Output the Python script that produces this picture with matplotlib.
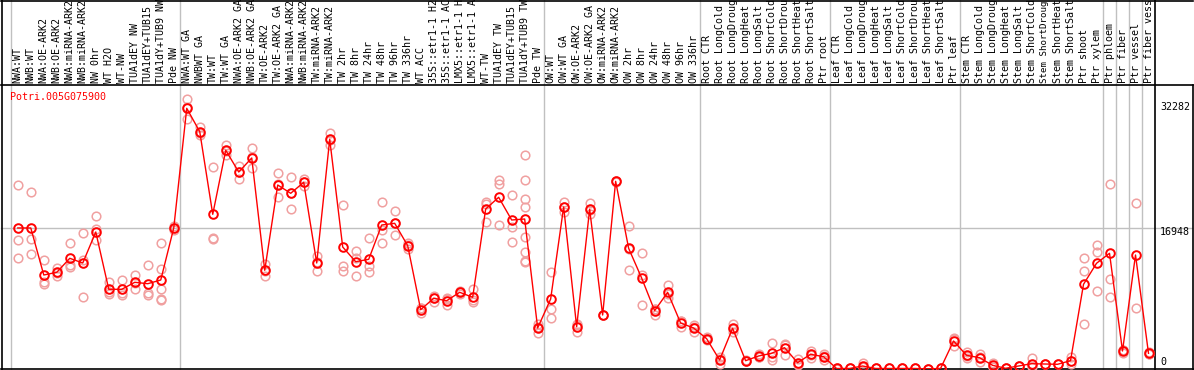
import matplotlib
matplotlib.use("Agg")
import matplotlib.pyplot as plt
from matplotlib.lines import Line2D
from matplotlib.transforms import blended_transform_factory

labels = ["NWA:WT", "NWB:WT", "NWA:OE-ARK2", "NWB:OE-ARK2", "NWA:miRNA-ARK2", "NWB:miRNA-ARK2",
          "NW 0hr", "WT H2O", "WT-NW", "TUA1dEY NW", "TUA1dEY+TUB15", "TUA1dY+TUB9 NW", "Pde NW",
          "NWA:WT GA", "NWBWT GA", "TW:WT", "TW:WT GA", "NWA:OE-ARK2 GA", "NWB:OE-ARK2 GA",
          "TW:OE-ARK2", "TW:OE-ARK2 GA", "NWA:miRNA-ARK2", "NWB:miRNA-ARK2", "TW:miRNA-ARK2",
          "TW:miRNA-ARK2", "TW 2hr", "TW 8hr", "TW 24hr", "TW 48hr", "TW 96hr", "TW 336hr",
          "WT ACC", "35S::etr1-1 H2", "35S::etr1-1 AC", "LMX5::etr1-1 H", "LMX5::etr1-1 A",
          "WT-TW", "TUA1dEY TW", "TUA1dEY+TUB15", "TUA1dY+TUB9 TW", "Pde TW",
          "OW:WT", "OW:WT GA", "OW:OE-ARK2", "OW:OE-ARK2 GA", "OW:miRNA-ARK2", "OW:miRNA-ARK2",
          "OW 2hr", "OW 8hr", "OW 24hr", "OW 48hr", "OW 96hr", "OW 336hr",
          "Root CTR", "Root LongCold", "Root LongDroug", "Root LongHeat", "Root LongSalt",
          "Root ShortCold", "Root ShortDrou", "Root ShortHeat", "Root ShortSalt", "Ptr root",
          "Leaf CTR", "Leaf LongCold", "Leaf LongDroug", "Leaf LongHeat", "Leaf LongSalt",
          "Leaf ShortCold", "Leaf ShortDrou", "Leaf ShortHeat", "Leaf ShortSalt", "Ptr leaf",
          "Stem CTR", "Stem LongCold", "Stem LongDroug", "Stem LongHeat", "Stem LongSalt",
          "Stem ShortCold", "Stem ShortDroug", "Stem ShortHeat", "Stem ShortSalt",
          "Ptr shoot", "Ptr xylem", "Ptr phloem", "Ptr fiber", "Ptr vessel", "Ptr fiber vess"]

means = [16948, 16948, 11376, 11696, 13355, 12798, 16472, 9681, 9681, 10511, 10345, 10784, 16948,
         31130, 28357, 18569, 26153, 23582, 25241, 11933, 22041, 21057, 22361, 12798, 27456, 14694,
         12952, 13236, 17301, 17502, 14848, 7264, 8615, 8331, 9326, 8733, 19197, 20583, 17894, 18012, 5096,
         8532, 19434, 5250, 19161, 6636, 22479, 14540, 11021, 7146, 9326, 5688, 5096,
         3828, 1304, 5060, 1221, 1778, 2097, 2761, 984, 1979, 1695,
         300, 300, 593, 300, 300, 300, 300, 250, 300, 3555,
         1860, 1576, 675, 320, 593, 865, 830, 794, 1221, 10274, 12763,
         13947, 2370, 13746, 2097]

replicates = [
    [22005, 15488, 13355], [21176, 15606, 13865], [13118, 10582, 10310], [12241, 11258, 11590],
    [15132, 12561, 12372], [16317, 13154, 8733], [18368, 16791, 15524], [10547, 9089, 9400],
    [10748, 9006, 9290], [11412, 9753, 10370], [12525, 9207, 9006], [15132, 12087, 9717, 8532, 8450],
    [16700, 17200, 16948],
    [32282, 29862, 31250], [28878, 27966, 28230], [24210, 15796, 15700], [26781, 25596, 26080],
    [24328, 22788, 23630], [26390, 24020, 25310], [12644, 11293, 11860], [23427, 20583, 22110],
    [22953, 19161, 21060], [21900, 22800, 22380], [13628, 11850, 12920], [28167, 26781, 27420],
    [19635, 12443, 11850], [14184, 11258, 13400], [15725, 12478, 11696], [19991, 16744, 15132],
    [18924, 16080, 17500], [15132, 14421, 14990], [6837, 7501, 7450], [8923, 8212, 8700],
    [8615, 7821, 8560], [9480, 9125, 9370], [9681, 8141, 8380], [20062, 17692, 19840],
    [22634, 22124, 17266], [20820, 17100, 15322],
    [25596, 22634, 20382, 19398, 15915, 14137, 12952, 13082], [5570, 4467, 5250],
    [11696, 7311, 6316], [20027, 18806, 19470], [4657, 5500, 5590], [19872, 18569, 19040],
    [6636, 6600, 6670], [22479, 22400, 22560], [17183, 11969, 14470], [13983, 11412, 7785],
    [6636, 7400, 7400], [10191, 8686, 9100], [5178, 5950, 5940], [5451, 4586, 5250],
    [4029, 3700, 3760], [1695, 794, 1420], [5570, 4586, 5020], [1221, 1150, 1290],
    [2015, 1650, 1670], [3283, 1304, 1700], [3235, 1932, 3110], [1387, 800, 770],
    [2406, 1576, 1950], [2015, 1304, 1770],
    [300, 250, 350], [300, 300, 300], [912, 450, 420], [300, 300, 300], [300, 300, 300],
    [300, 300, 300], [300, 300, 300], [250, 250, 250], [300, 300, 300], [3875, 2998, 3790],
    [2252, 1505, 1820], [1979, 1102, 1650], [984, 520, 520], [320, 320, 320], [593, 560, 620],
    [1576, 438, 580], [830, 800, 860], [794, 780, 810], [1695, 830, 1140],
    [13355, 11814, 5534], [14931, 14066, 9444], [22124, 10866, 8733], [2169, 2500, 2440],
    [19872, 7430], [2287, 2000, 2000]]

group_bounds = [-0.5, 12.5, 40.5, 52.5, 62.5, 72.5, 83.5, 84.5, 85.5, 86.5]
gene = "Potri.005G075900"
ytick_vals = [32282, 16948, 0]
ref_line = 16948

W, H = 1194, 370
fig = plt.figure(figsize=(W / 100, H / 100), dpi=100)
FONT = "DejaVu Sans Mono"
FS = 7.2

# plot axes: pixels x 1..1155, y 85..369
ax = fig.add_axes([1 / W, (H - 369) / H, 1154 / W, 284 / H])
ax.set_xlim(-1.292, 87.5)
ax.set_ylim(237, 33891)
ax.axis("off")
ax.set_zorder(5)

xs = list(range(len(labels)))
rep_color = "#f0a0a0"
for i, reps in enumerate(replicates):
    ax.plot([i] * len(reps), reps, linestyle="none", marker="o", markersize=6.2,
            markerfacecolor="none", markeredgecolor=rep_color, markeredgewidth=1.1,
            clip_on=True, zorder=2)
ax.plot(xs, means, color="#ff0000", linewidth=1.0, zorder=3)
ax.plot(xs, means, linestyle="none", marker="o", markersize=6.2, markerfacecolor="none",
        markeredgecolor="#ff0000", markeredgewidth=1.4, zorder=4)

ax.text(9 / 1154, (369 - 97) / 284, gene, transform=ax.transAxes, color="#ff0000",
        fontsize=FS, family=FONT, ha="left", va="center", zorder=6)

# grid lines
bx = blended_transform_factory(ax.transData, fig.transFigure)
for b in group_bounds:
    fig.add_artist(Line2D([b, b], [0, 1], transform=bx, color="#c0c0c0", linewidth=1.0, zorder=1))
by = blended_transform_factory(fig.transFigure, ax.transData)
fig.add_artist(Line2D([1 / W, 1192 / W], [ref_line, ref_line], transform=by,
                      color="#c0c0c0", linewidth=1.0, zorder=1))

# frame lines
def hline(ypix, x0=1, x1=1193):
    fig.add_artist(Line2D([x0 / W, x1 / W], [1 - ypix / H, 1 - ypix / H], color="black",
                          linewidth=1.2, zorder=2))

def vline(xpix, y0=0, y1=370):
    fig.add_artist(Line2D([xpix / W, xpix / W], [1 - y0 / H, 1 - y1 / H], color="black",
                          linewidth=1.2, zorder=2))

hline(0.5)
hline(85)
hline(369.3)
vline(1.5)
vline(1155)
vline(1192.5, 85, 370)

# column labels
for i, lab in enumerate(labels):
    fs = FS if len(lab) <= 14 else 6.6
    fig.text(i, 1 - 83 / H, lab, transform=bx, rotation=90, ha="center", va="bottom",
             fontsize=fs, family=FONT, color="black")

# right-hand value labels
ytxt = {32282: 107, 16948: 232, 0: 362}
for v in ytick_vals:
    fig.text(1160 / W, 1 - ytxt[v] / H, str(v), ha="left", va="center",
             fontsize=FS, family=FONT, color="black")

fig.savefig("out.png", dpi=100)
